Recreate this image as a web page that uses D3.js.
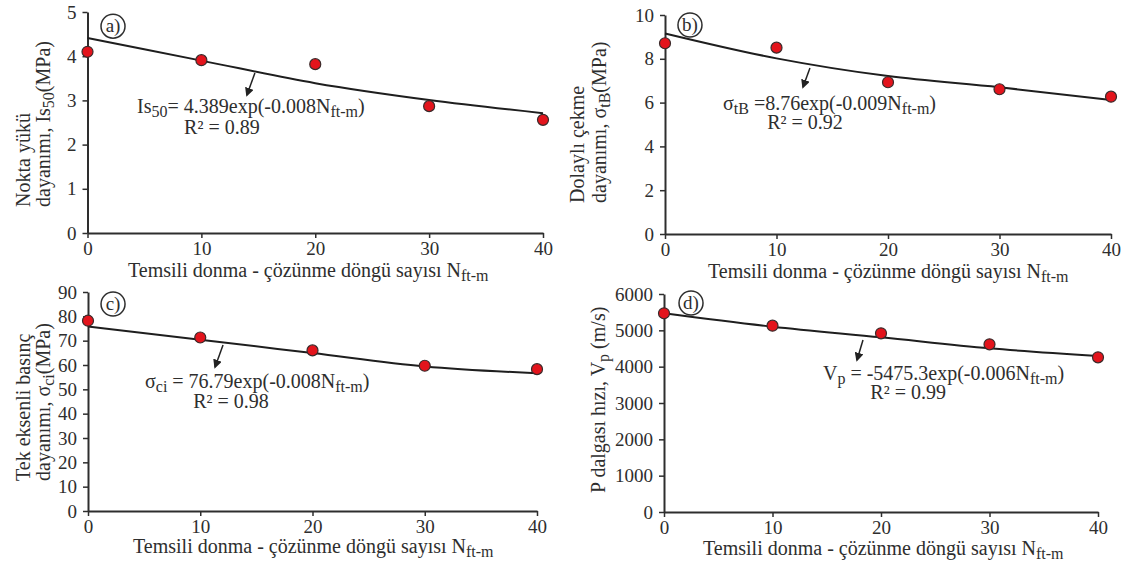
<!DOCTYPE html>
<html>
<head>
<meta charset="utf-8">
<script src="https://cdn.jsdelivr.net/npm/d3@7"></script>
<style>
body { margin: 0; background: #fff; }
svg text { font-family: "Liberation Serif", "Times New Roman", serif; fill: #2e2e2e; }
.axis path, .axis line { stroke: #2e2e2e; }
</style>
</head>
<body>
<svg id="chart" width="1126" height="568" font-family="Liberation Serif"></svg>
<script>
// freeze-thaw cycles vs. rock properties, 4 panels
var cycles = [0, 10, 20, 30, 40];
var xTicks = [0, 10, 20, 30, 40];

// measured points
var is50 = [4.10, 3.91, 3.82, 2.87, 2.56];
var stb  = [8.71, 8.51, 6.93, 6.61, 6.27];
var sci  = [78.2, 71.3, 66.0, 59.7, 58.3];
var vp   = [5469, 5128, 4918, 4615, 4257];

// fitted curve at each cycle count
var is50Fit = [4.41, 3.90, 3.39, 3.01, 2.71];
var stbFit  = [9.16, 8.02, 7.21, 6.70, 6.12];
var sciFit  = [75.8, 70.4, 64.9, 59.4, 56.6];
var vpFit   = [5470, 5100, 4808, 4505, 4294];

var yTicksA = [0, 1, 2, 3, 4, 5];
var yTicksB = [0, 2, 4, 6, 8, 10];
var yTicksC = [0, 10, 20, 30, 40, 50, 60, 70, 80, 90];
var yTicksD = [0, 1000, 2000, 3000, 4000, 5000, 6000];

var xTitle = [{t: "Temsili donma - çözünme döngü sayısı N"}, {t: "ft-m", sub: true}];

var panels = [
  { tag: "a)", xr: [87.5, 543], yr: [233, 12], ymax: 5, ticks: yTicksA, pts: is50, fit: is50Fit,
    ytitle: [[{t: "Nokta yükü"}], [{t: "dayanımı, Is"}, {t: "50", sub: true}, {t: "(MPa)"}]],
    ytx: [30, 50], yty: 207, xtx: 128, xty: 277,
    eq: [{t: "Is"}, {t: "50", sub: true}, {t: "= 4.389exp(-0.008N"}, {t: "ft-m", sub: true}, {t: ")"}],
    r2: "R² = 0.89", eqAt: [4.35, 2.71], r2At: [11.8, 2.24], arrow: [[14.7, 3.62], [14.0, 3.12]], tagAt: [2.24, 4.68] },
  { tag: "b)", xr: [665, 1111], yr: [234, 15], ymax: 10, ticks: yTicksB, pts: stb, fit: stbFit,
    ytitle: [[{t: "Dolaylı çekme"}], [{t: "dayanımı, σ"}, {t: "tB", sub: true}, {t: "(MPa)"}]],
    ytx: [584, 606], yty: 203, xtx: 708, xty: 278,
    eq: [{t: "σ"}, {t: "tB", sub: true}, {t: " =8.76exp(-0.009N"}, {t: "ft-m", sub: true}, {t: ")"}],
    r2: "R² = 0.92", eqAt: [5.2, 5.66], r2At: [12.56, 4.8], arrow: [[13.0, 7.58], [12.38, 6.71]], tagAt: [2.24, 9.54] },
  { tag: "c)", xr: [88, 537], yr: [511, 292], ymax: 90, ticks: yTicksC, pts: sci, fit: sciFit,
    ytitle: [[{t: "Tek eksenli basınç"}], [{t: "dayanımı, σ"}, {t: "ci", sub: true}, {t: "(MPa)"}]],
    ytx: [30, 50], yty: 481, xtx: 133, xty: 553,
    eq: [{t: "σ"}, {t: "ci", sub: true}, {t: " = 76.79exp(-0.008N"}, {t: "ft-m", sub: true}, {t: ")"}],
    r2: "R² = 0.98", eqAt: [5.08, 50.6], r2At: [12.74, 42.3], arrow: [[12.03, 68.2], [11.32, 59.2]], tagAt: [2.23, 85.1] },
  { tag: "d)", xr: [664, 1098], yr: [512, 294], ymax: 6000, ticks: yTicksD, pts: vp, fit: vpFit,
    ytitle: [[{t: "P dalgası hızı, V"}, {t: "p", sub: true}, {t: " (m/s)"}]],
    ytx: [605], yty: 493, xtx: 703, xty: 555,
    eq: [{t: "V"}, {t: "p", sub: true}, {t: " = -5475.3exp(-0.006N"}, {t: "ft-m", sub: true}, {t: ")"}],
    r2: "R² = 0.99", eqAt: [14.65, 3633], r2At: [22.5, 3110], arrow: [[18.34, 4734], [17.79, 4184]], tagAt: [2.49, 5753] }
];

var svg = d3.select("#chart");

svg.append("defs").append("marker")
  .attr("id", "head")
  .attr("viewBox", "0 0 10 10")
  .attr("refX", 8).attr("refY", 5)
  .attr("markerWidth", 9).attr("markerHeight", 9)
  .attr("markerUnits", "userSpaceOnUse")
  .attr("orient", "auto")
  .append("path").attr("d", "M0,0 L10,5 L0,10 z").attr("fill", "#222");

// writes text pieces, dropping the subscript ones a few px
function rich(sel, parts, size) {
  var down = 0;
  parts.forEach(function(p) {
    var shift = p.sub ? 4 : 0;
    sel.append("tspan")
      .attr("dy", shift - down)
      .attr("font-size", p.sub ? size * 0.8 : size)
      .text(p.t);
    down = shift;
  });
}

function styleAxis(a) {
  a.attr("font-family", null).attr("font-size", null);
  a.select(".domain").attr("stroke-width", 2);
  a.selectAll(".tick line").attr("stroke-width", 1.5);
  a.selectAll(".tick text").attr("font-size", 19);
}

panels.forEach(function(p) {
  var x = d3.scaleLinear().domain([0, 40]).range(p.xr);
  var y = d3.scaleLinear().domain([0, p.ymax]).range(p.yr);
  var g = svg.append("g");

  g.append("g")
    .attr("class", "axis")
    .attr("transform", "translate(0," + p.yr[0] + ")")
    .call(d3.axisBottom(x).tickValues(xTicks).tickFormat(d3.format("d"))
      .tickSize(5).tickSizeOuter(0).tickPadding(4))
    .call(styleAxis);

  g.append("g")
    .attr("class", "axis")
    .attr("transform", "translate(" + p.xr[0] + ",0)")
    .call(d3.axisLeft(y).tickValues(p.ticks).tickFormat(d3.format("d"))
      .tickSize(5).tickSizeOuter(0).tickPadding(6))
    .call(styleAxis);

  // fit curve
  var line = d3.line()
    .x(function(d, i) { return x(cycles[i]); })
    .y(function(d) { return y(d); })
    .curve(d3.curveMonotoneX);
  g.append("path")
    .datum(p.fit)
    .attr("d", line)
    .attr("fill", "none")
    .attr("stroke", "#1e1e1e")
    .attr("stroke-width", 2);

  g.selectAll(".dot")
    .data(p.pts)
    .enter().append("circle")
    .attr("class", "dot")
    .attr("cx", function(d, i) { return x(cycles[i]); })
    .attr("cy", function(d) { return y(d); })
    .attr("r", 5.5)
    .attr("fill", "#e3141c")
    .attr("stroke", "#3a2a2a")
    .attr("stroke-width", 1.2);

  // arrow to the equation
  g.append("line")
    .attr("x1", x(p.arrow[0][0])).attr("y1", y(p.arrow[0][1]))
    .attr("x2", x(p.arrow[1][0])).attr("y2", y(p.arrow[1][1]))
    .attr("stroke", "#222").attr("stroke-width", 1.5)
    .attr("marker-end", "url(#head)");

  rich(g.append("text").attr("x", x(p.eqAt[0])).attr("y", y(p.eqAt[1])), p.eq, 20);
  g.append("text")
    .attr("x", x(p.r2At[0])).attr("y", y(p.r2At[1]))
    .attr("text-anchor", "middle").attr("font-size", 20)
    .text(p.r2);

  // panel tag in a circle
  g.append("circle")
    .attr("cx", x(p.tagAt[0])).attr("cy", y(p.tagAt[1]))
    .attr("r", 12).attr("fill", "none")
    .attr("stroke", "#2e2e2e").attr("stroke-width", 1.5);
  g.append("text")
    .attr("x", x(p.tagAt[0])).attr("y", y(p.tagAt[1]))
    .attr("dy", "0.33em").attr("text-anchor", "middle").attr("font-size", 19)
    .text(p.tag);

  // axis titles
  p.ytitle.forEach(function(parts, i) {
    rich(g.append("text")
      .attr("transform", "translate(" + p.ytx[i] + "," + p.yty + ") rotate(-90)"), parts, 20);
  });
  rich(g.append("text").attr("x", p.xtx).attr("y", p.xty), xTitle, 20);
});
</script>
</body>
</html>
